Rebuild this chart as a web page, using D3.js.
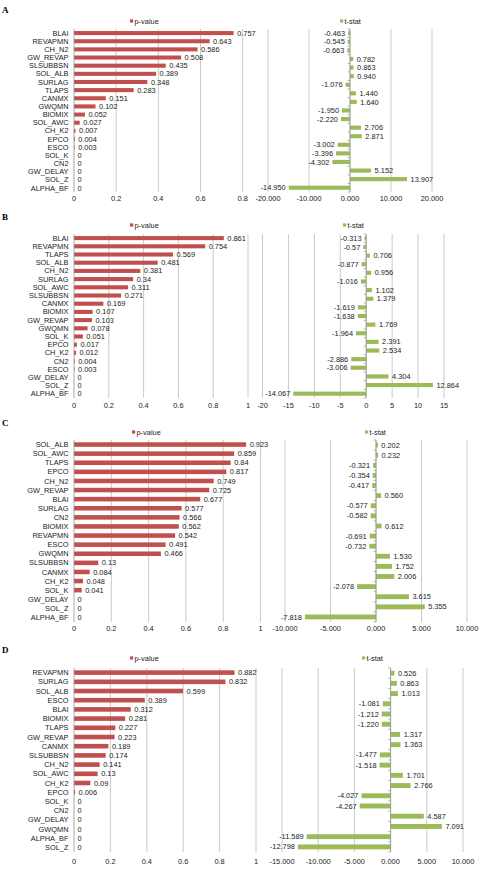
<!DOCTYPE html>
<html>
<head>
<meta charset="utf-8">
<script src="https://cdn.jsdelivr.net/npm/d3@7"></script>
<style>
  body { margin: 0; background: #fff; }
  svg { display: block; font-family: "Liberation Sans", Arial, sans-serif; }
</style>
</head>
<body>
<svg width="483" height="870"></svg>
<script>
// ---- data ----
const aParams = ["BLAI", "REVAPMN", "CH_N2", "GW_REVAP", "SLSUBBSN", "SOL_ALB", "SURLAG", "TLAPS", "CANMX", "GWQMN",
  "BIOMIX", "SOL_AWC", "CH_K2", "EPCO", "ESCO", "SOL_K", "CN2", "GW_DELAY", "SOL_Z", "ALPHA_BF"];
const aPvalues = [0.757, 0.643, 0.586, 0.508, 0.435, 0.389, 0.348, 0.283, 0.151, 0.102,
  0.052, 0.027, 0.007, 0.004, 0.003, 0, 0, 0, 0, 0];
const aTstats = [-0.463, -0.545, -0.663, 0.782, 0.863, 0.940, -1.076, 1.440, 1.640, -1.950,
  -2.220, 2.706, 2.871, -3.002, -3.396, -4.302, 5.152, 13.907, -14.950];
const aPTicks = [0, 0.2, 0.4, 0.6, 0.8];
const aTTicks = [-20, -10, 0, 10, 20];

const bParams = ["BLAI", "REVAPMN", "TLAPS", "SOL_ALB", "CH_N2", "SURLAG", "SOL_AWC", "SLSUBBSN", "CANMX", "BIOMIX",
  "GW_REVAP", "GWQMN", "SOL_K", "EPCO", "CH_K2", "CN2", "ESCO", "GW_DELAY", "SOL_Z", "ALPHA_BF"];
const bPvalues = [0.861, 0.754, 0.569, 0.481, 0.381, 0.34, 0.311, 0.271, 0.169, 0.107,
  0.103, 0.078, 0.051, 0.017, 0.012, 0.004, 0.003, 0, 0, 0];
const bTstats = [-0.313, -0.57, 0.706, -0.877, 0.956, -1.016, 1.102, 1.379, -1.619, -1.638,
  1.769, -1.964, 2.391, 2.534, -2.886, -3.006, 4.304, 12.864, -14.067];
const bPTicks = [0, 0.2, 0.4, 0.6, 0.8, 1];
const bTTicks = [-20, -15, -10, -5, 0, 5, 10, 15];

const cParams = ["SOL_ALB", "SOL_AWC", "TLAPS", "EPCO", "CH_N2", "GW_REVAP", "BLAI", "SURLAG", "CN2", "BIOMIX",
  "REVAPMN", "ESCO", "GWQMN", "SLSUBBSN", "CANMX", "CH_K2", "SOL_K", "GW_DELAY", "SOL_Z", "ALPHA_BF"];
const cPvalues = [0.923, 0.859, 0.84, 0.817, 0.749, 0.725, 0.677, 0.577, 0.566, 0.562,
  0.542, 0.491, 0.466, 0.13, 0.084, 0.048, 0.041, 0, 0, 0];
const cTstats = [0.202, 0.232, -0.321, -0.354, -0.417, 0.560, -0.577, -0.582, 0.612, -0.691,
  -0.732, 1.530, 1.752, 2.006, -2.078, 3.615, 5.355, -7.818];
const cPTicks = [0, 0.2, 0.4, 0.6, 0.8, 1];
const cTTicks = [-10, -5, 0, 5, 10];

const dParams = ["REVAPMN", "SURLAG", "SOL_ALB", "ESCO", "BLAI", "BIOMIX", "TLAPS", "GW_REVAP", "CANMX", "SLSUBBSN",
  "CH_N2", "SOL_AWC", "CH_K2", "EPCO", "SOL_K", "CN2", "GW_DELAY", "GWQMN", "ALPHA_BF", "SOL_Z"];
const dPvalues = [0.882, 0.832, 0.599, 0.389, 0.312, 0.281, 0.227, 0.223, 0.189, 0.174,
  0.141, 0.13, 0.09, 0.006, 0, 0, 0, 0, 0, 0];
const dTstats = [0.526, 0.863, 1.013, -1.081, -1.212, -1.220, 1.317, 1.363, -1.477, -1.518,
  1.701, 2.766, -4.027, -4.267, 4.587, 7.091, -11.589, -12.798];
const dPTicks = [0, 0.2, 0.4, 0.6, 0.8, 1];
const dTTicks = [-15, -10, -5, 0, 5, 10];

// ---- styling ----
const colors = { p: "#C0504D", t: "#9BBB59", grid: "#bdbdbd", axis: "#969696", text: "#222" };
const fontSize = 7.4;

const fixed3 = (v) => v.toFixed(3);
const plain = (v) => String(v);

// ---- panel layout ----
const panels = [
  { letter: "A", params: aParams, p: aPvalues, t: aTstats, pTicks: aPTicks, tTicks: aTTicks,
    tFmt: fixed3, tTickFmt: fixed3,
    letterY: 10, legendY: 21, top: 29, bottom: 192, tickY: 198,
    pX: [74, 242.7], tX: [268, 432], pLegX: 130, tLegX: 340 },
  { letter: "B", params: bParams, p: bPvalues, t: bTstats, pTicks: bPTicks, tTicks: bTTicks,
    tFmt: plain, tTickFmt: plain,
    letterY: 217, legendY: 225, top: 234, bottom: 398, tickY: 405,
    pX: [74, 248], tX: [262.5, 444], pLegX: 130, tLegX: 343 },
  { letter: "C", params: cParams, p: cPvalues, t: cTstats, pTicks: cPTicks, tTicks: cTTicks,
    tFmt: fixed3, tTickFmt: fixed3,
    letterY: 423, legendY: 432, top: 440, bottom: 622, tickY: 628,
    pX: [74, 260.5], tX: [285, 467], pLegX: 132, tLegX: 365 },
  { letter: "D", params: dParams, p: dPvalues, t: dTstats, pTicks: dPTicks, tTicks: dTTicks,
    tFmt: fixed3, tTickFmt: fixed3,
    letterY: 650, legendY: 658, top: 668, bottom: 852, tickY: 861,
    pX: [74, 256], tX: [282, 463], pLegX: 130, tLegX: 362 },
];

const svg = d3.select("svg");

function drawLegend(g, x, y, color, label) {
  g.append("rect").attr("x", x).attr("y", y - 1.6).attr("width", 3.2).attr("height", 3.2).attr("fill", color);
  g.append("text").attr("x", x + 4.5).attr("y", y).attr("dy", "0.35em")
    .attr("font-size", fontSize).attr("fill", colors.text).text(label);
}

function drawGrid(g, x, ticks, cfg, fmt) {
  const grid = g.append("g");
  grid.selectAll("line").data(ticks).join("line")
    .attr("x1", (d) => x(d)).attr("x2", (d) => x(d))
    .attr("y1", cfg.top).attr("y2", cfg.bottom)
    .attr("stroke", colors.grid).attr("stroke-width", 0.8);
  grid.selectAll("text").data(ticks).join("text")
    .attr("x", (d) => x(d)).attr("y", cfg.tickY).attr("dy", "0.35em")
    .attr("text-anchor", "middle").attr("font-size", fontSize).attr("fill", colors.text)
    .text(fmt);
}

function drawZeroAxis(g, x0, y, cfg) {
  // axis line at zero with small ticks between categories
  g.append("line").attr("x1", x0).attr("x2", x0).attr("y1", cfg.top).attr("y2", cfg.bottom)
    .attr("stroke", colors.axis).attr("stroke-width", 0.8);
  const edges = y.domain().map((d) => y(d) - (y.step() - y.bandwidth()) / 2).concat([cfg.bottom]);
  g.selectAll(".tk").data(edges).join("line").attr("class", "tk")
    .attr("x1", x0 - 2.5).attr("x2", x0).attr("y1", (d) => d).attr("y2", (d) => d)
    .attr("stroke", colors.axis).attr("stroke-width", 0.7);
}

panels.forEach((cfg) => {
  const g = svg.append("g");

  // panel letter
  g.append("text").attr("x", 2).attr("y", cfg.letterY).attr("dy", "0.35em")
    .attr("font-family", "'Liberation Serif', 'DejaVu Serif', serif").attr("font-weight", "bold")
    .attr("font-size", 9).attr("fill", "#000").text(cfg.letter);

  // ---- p-value chart ----
  const xp = d3.scaleLinear().domain(d3.extent(cfg.pTicks)).range(cfg.pX);
  const yp = d3.scaleBand().domain(cfg.params).range([cfg.top, cfg.bottom]).paddingInner(0.5).paddingOuter(0.25);

  drawGrid(g, xp, cfg.pTicks.filter((d) => d !== 0), cfg, plain);
  g.append("text").attr("x", xp(0)).attr("y", cfg.tickY).attr("dy", "0.35em")
    .attr("text-anchor", "middle").attr("font-size", fontSize).attr("fill", colors.text).text("0");

  g.append("g").selectAll("rect").data(cfg.params).join("rect")
    .attr("x", xp(0)).attr("y", (d) => yp(d))
    .attr("width", (d, i) => xp(cfg.p[i]) - xp(0)).attr("height", yp.bandwidth())
    .attr("fill", colors.p);

  drawZeroAxis(g, xp(0), yp, cfg);

  g.append("g").selectAll("text").data(cfg.params).join("text")
    .attr("x", xp(0) - 5.5).attr("y", (d) => yp(d) + yp.bandwidth() / 2).attr("dy", "0.35em")
    .attr("text-anchor", "end").attr("font-size", fontSize).attr("fill", colors.text).text((d) => d);

  g.append("g").selectAll("text").data(cfg.params).join("text")
    .attr("x", (d, i) => xp(cfg.p[i]) + 3.5).attr("y", (d) => yp(d) + yp.bandwidth() / 2).attr("dy", "0.35em")
    .attr("font-size", fontSize).attr("fill", colors.text).text((d, i) => plain(cfg.p[i]));

  drawLegend(g, cfg.pLegX, cfg.legendY, colors.p, "p-value");

  // ---- t-stat chart ----
  const idx = d3.range(cfg.t.length);
  const xt = d3.scaleLinear().domain(d3.extent(cfg.tTicks)).range(cfg.tX);
  const yt = d3.scaleBand().domain(idx).range([cfg.top, cfg.bottom]).paddingInner(0.52).paddingOuter(0.26);

  drawGrid(g, xt, cfg.tTicks, cfg, cfg.tTickFmt);

  g.append("g").selectAll("rect").data(idx).join("rect")
    .attr("x", (i) => xt(Math.min(0, cfg.t[i]))).attr("y", (i) => yt(i))
    .attr("width", (i) => Math.abs(xt(cfg.t[i]) - xt(0))).attr("height", yt.bandwidth())
    .attr("fill", colors.t);

  drawZeroAxis(g, xt(0), yt, cfg);

  g.append("g").selectAll("text").data(idx).join("text")
    .attr("x", (i) => cfg.t[i] < 0 ? xt(cfg.t[i]) - 3 : xt(cfg.t[i]) + 3.5)
    .attr("y", (i) => yt(i) + yt.bandwidth() / 2).attr("dy", "0.35em")
    .attr("text-anchor", (i) => cfg.t[i] < 0 ? "end" : "start")
    .attr("font-size", fontSize).attr("fill", colors.text).text((i) => cfg.tFmt(cfg.t[i]));

  drawLegend(g, cfg.tLegX, cfg.legendY, colors.t, "t-stat");
});
</script>
</body>
</html>
